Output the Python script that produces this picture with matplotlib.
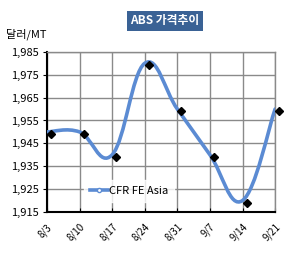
import numpy as np
import matplotlib
matplotlib.use("Agg")
import matplotlib.pyplot as plt
import matplotlib.transforms as mtransforms
from matplotlib.path import Path
from matplotlib.patches import PathPatch
from matplotlib.lines import Line2D

plt.rcParams['font.family'] = ['Noto Sans CJK KR', 'DejaVu Sans']

dates = ["8/3", "8/10", "8/17", "8/24", "8/31", "9/7", "9/14", "9/21"]
prices = [1950, 1950, 1940, 1980, 1960, 1940, 1920, 1960]
series_name = "CFR FE Asia"
yticks = [1915, 1925, 1935, 1945, 1955, 1965, 1975, 1985]

line_color = "#5b8bd3"

fig = plt.figure(figsize=(3.01, 2.62), dpi=100)
ax = fig.add_axes([0.156, 0.191, 0.758, 0.611])

x = np.arange(len(dates))
y = np.array(prices, dtype=float)

# smoothed line like Excel: cubic bezier segments through each point
verts = [(x[0], y[0])]
codes = [Path.MOVETO]
k = 5.0  # a little looser than catmull-rom, closer to the original curve
for i in range(len(x) - 1):
    p0 = (x[i - 1], y[i - 1]) if i > 0 else (x[i], y[i])
    p1 = (x[i], y[i])
    p2 = (x[i + 1], y[i + 1])
    p3 = (x[i + 2], y[i + 2]) if i + 2 < len(x) else p2
    c1 = (p1[0] + (p2[0] - p0[0]) / k, p1[1] + (p2[1] - p0[1]) / k)
    c2 = (p2[0] - (p3[0] - p1[0]) / k, p2[1] - (p3[1] - p1[1]) / k)
    verts += [c1, c2, p2]
    codes += [Path.CURVE4] * 3
ax.add_patch(PathPatch(Path(verts, codes), facecolor="none",
                       edgecolor=line_color, lw=2.6, zorder=3,
                       capstyle="round", joinstyle="round"))

# markers sit a few pixels right/below, like the original
shift = mtransforms.ScaledTranslation(3 / 72, -1.5 / 72, fig.dpi_scale_trans)
ax.plot(x, y, linestyle="none", marker="D", ms=4, color="black",
        transform=ax.transData + shift, zorder=4, clip_on=False)

ax.set_xlim(0, 7)
ax.set_ylim(1915, 1985)
ax.set_yticks(yticks)
ax.set_yticklabels([f"{v:,}" for v in yticks], fontsize=8)
ax.set_xticks(x)
ax.set_xticklabels(dates, rotation=45, ha="right", rotation_mode="anchor",
                   fontsize=7)
ax.tick_params(axis="x", direction="in", length=3, pad=7)
ax.tick_params(axis="y", direction="out", length=3, pad=3)
ax.grid(True, color="#8a8a8a", lw=1.0)
for side in ["left", "bottom"]:
    ax.spines[side].set_color("black")
    ax.spines[side].set_linewidth(1.5)
for side in ["top", "right"]:
    ax.spines[side].set_color("#8a8a8a")
    ax.spines[side].set_linewidth(1.0)

handle = Line2D([], [], color=line_color, lw=2.6, marker="o", ms=3,
                markerfacecolor="white", markeredgecolor=line_color)
leg = ax.legend([handle], [series_name], loc="lower left",
                bbox_to_anchor=(0.14, 0.03), fontsize=8, frameon=True,
                fancybox=False, handlelength=1.6, handletextpad=0.1,
                borderpad=0.5)
leg.get_frame().set_edgecolor("white")
leg.get_frame().set_facecolor("white")

fig.text(0.548, 0.92, "ABS 가격추이", ha="center", va="center",
         fontsize=8.5, color="white", fontweight="bold",
         bbox=dict(boxstyle="square,pad=0.3", facecolor="#3a6295",
                   edgecolor="none"))
fig.text(0.02, 0.87, "달러/MT", ha="left", va="center", fontsize=8)

fig.savefig("out.png", dpi=100)
